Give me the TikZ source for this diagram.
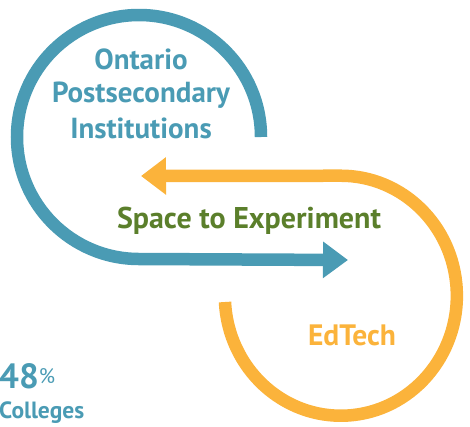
\documentclass[tikz,border=0pt]{standalone}
\usepackage{fontspec}
\setmainfont{PT Sans}
\usetikzlibrary{arrows.meta}
\definecolor{instblue}{HTML}{4A9BB4}
\definecolor{techorange}{HTML}{FBB33B}
\definecolor{spacegreen}{HTML}{5B7F2B}
\begin{document}
\begin{tikzpicture}[x=1pt,y=-1pt]
	\useasboundingbox (0,0) rectangle (470,426);
	\clip (0,0) rectangle (470,426);
	\begin{scope}[every path/.style={line width=12.5pt}]
		\draw[instblue, -{Triangle[width=35pt,length=25pt]}]
			(261,137) arc[start angle=0, end angle=-270, x radius=122, y radius=122] -- (348,260);
		\draw[techorange, -{Triangle[width=36pt,length=25pt]}]
			(225,302) arc[start angle=177, end angle=-90, x radius=116, y radius=120] -- (141,176);
	\end{scope}
	\begin{scope}[every node/.style={anchor=base, font=\bfseries, inner sep=0pt}]
		\node[instblue, font=\bfseries\fontsize{29}{29}\selectfont] (ont) at (141,69) {Ontario};
		\node[instblue, font=\bfseries\fontsize{29}{29}\selectfont] (post) at (141,102) {Postsecondary};
		\node[instblue, font=\bfseries\fontsize{29}{29}\selectfont] (inst) at (141,138) {Institutions};
		\node[spacegreen, font=\bfseries\fontsize{30}{30}\selectfont] (space) at (249,228) {Space to Experiment};
		\node[techorange, font=\bfseries\fontsize{29.5}{29.5}\selectfont] (edtech) at (352,345) {EdTech};
		\node[instblue, anchor=base west] (pct) at (-1,388) {{\fontsize{35}{35}\selectfont 48}\raisebox{5pt}{\fontsize{21}{21}\selectfont\mdseries\%}};
		\node[instblue, anchor=base west, font=\bfseries\fontsize{23.5}{23.5}\selectfont] (coll) at (-1,418) {Colleges};
	\end{scope}
\end{tikzpicture}
\end{document}
